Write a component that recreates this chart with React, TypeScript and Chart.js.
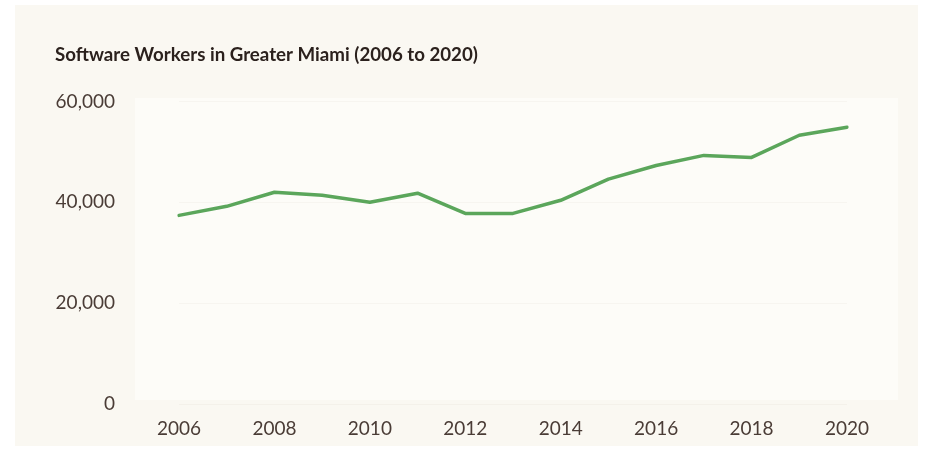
import React, { useEffect, useRef } from "react";
import { Chart, registerables } from "chart.js";

Chart.register(...registerables);

const years: string[] = [
  "2006", "2007", "2008", "2009", "2010", "2011", "2012", "2013",
  "2014", "2015", "2016", "2017", "2018", "2019", "2020",
];
const workers: number[] = [
  37400, 39200, 42000, 41400, 40000, 41800, 37800, 37800,
  40400, 44600, 47300, 49300, 48900, 53300, 54900,
];
const shownYearLabels: string[] = ["2006", "2008", "2010", "2012", "2014", "2016", "2018", "2020"];
const yTicks: number[] = [0, 20000, 40000, 60000];

const titleText = "Software Workers in Greater Miami (2006 to 2020)";
const textColor = "#4a3c36";

export default function App() {
  const ref = useRef<HTMLCanvasElement | null>(null);

  useEffect(() => {
    if (!ref.current) return;
    const chart = new Chart(ref.current, {
      type: "line",
      data: {
        labels: years,
        datasets: [
          {
            label: "Software workers",
            data: workers,
            borderColor: "#5ba65b",
            borderWidth: 3.5,
            pointRadius: 0,
            tension: 0,
            fill: false,
            borderCapStyle: "round",
            borderJoinStyle: "round",
          },
        ],
      },
      options: {
        responsive: false,
        animation: false,
        layout: { padding: { left: 55, right: 87, top: 0, bottom: 14 } },
        plugins: {
          legend: { display: false },
          tooltip: { enabled: false },
          title: {
            display: true,
            text: titleText,
            align: "start",
            color: "#2b211d",
            font: { family: "Lato", size: 18.7, weight: "bold" },
            padding: { top: 44, bottom: 35 },
          },
        },
        scales: {
          x: {
            offset: false,
            grid: { display: false, drawTicks: false },
            border: { display: false },
            ticks: {
              autoSkip: false,
              maxRotation: 0,
              padding: 13,
              color: textColor,
              font: { family: "Lato", size: 19 },
              callback: function (this: any, value: any) {
                const lab = this.getLabelForValue(value);
                return shownYearLabels.includes(lab) ? lab : "";
              },
            },
            afterFit: (scale: any) => {
              scale.height = 35;
            },
          },
          y: {
            min: 0,
            max: 60000,
            grid: { color: "rgba(140,120,90,0.05)", drawTicks: false },
            border: { display: false },
            afterBuildTicks: (scale: any) => {
              scale.ticks = yTicks.map((v) => ({ value: v }));
            },
            ticks: {
              padding: 64,
              color: textColor,
              font: { family: "Lato", size: 19 },
              callback: (v: any) => Number(v).toLocaleString("en-US"),
            },
            afterFit: (scale: any) => {
              scale.width = 124;
              scale.paddingTop = 0;
              scale.paddingBottom = 0;
            },
          },
        },
      },
    });
    return () => chart.destroy();
  }, []);

  return (
    <div style={{ position: "absolute", left: 0, top: 0, width: 934, height: 453, background: "#ffffff", overflow: "hidden" }}>
      <div style={{ position: "absolute", left: 15, top: 5, width: 903, height: 441, background: "#faf8f2" }} />
      <div style={{ position: "absolute", left: 135, top: 98, width: 763, height: 302, background: "#fdfcf8" }} />
      <canvas ref={ref} width={934} height={453} style={{ position: "absolute", left: 0, top: 0, width: 934, height: 453 }} />
    </div>
  );
}
